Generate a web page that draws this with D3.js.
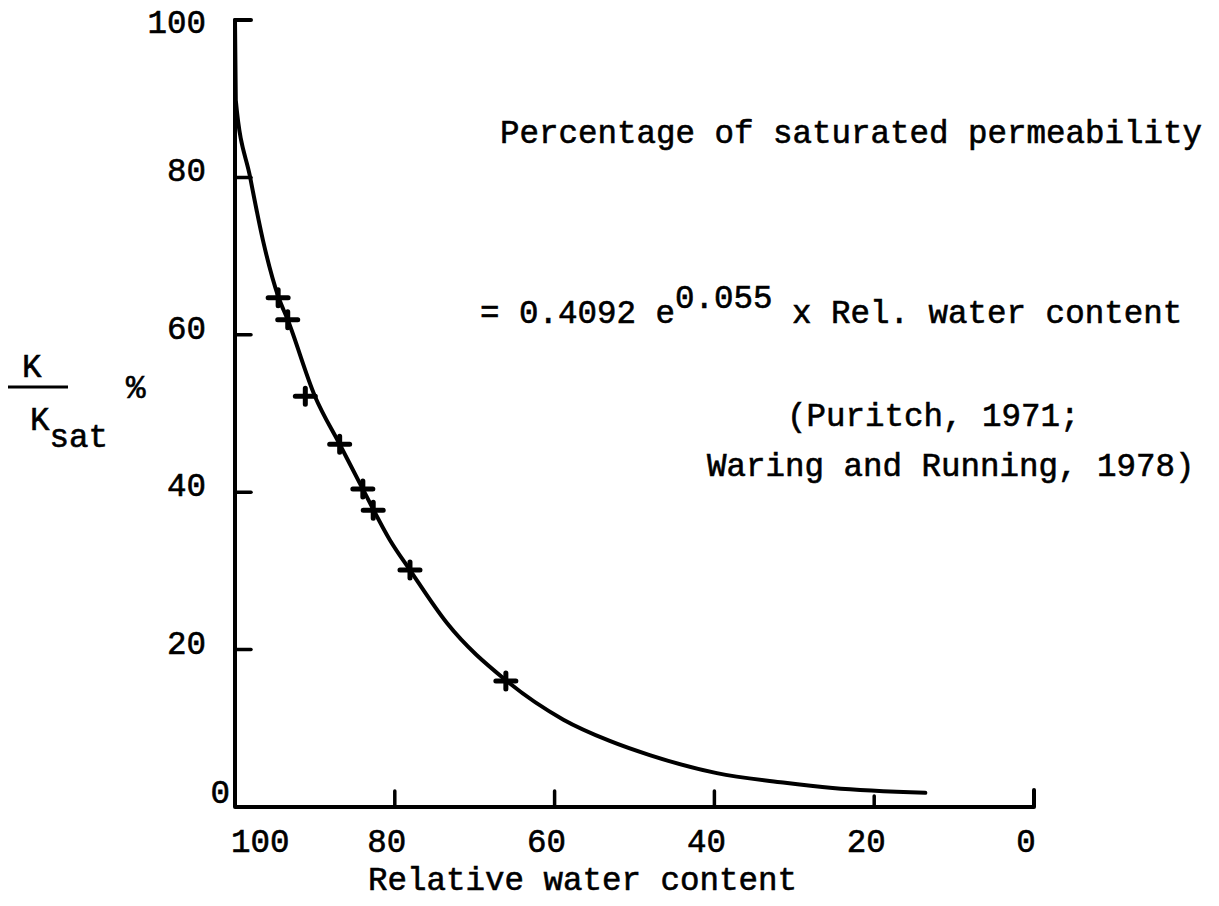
<!DOCTYPE html>
<html>
<head>
<meta charset="utf-8">
<script src="https://cdn.jsdelivr.net/npm/d3@7"></script>
<style>
  body { margin: 0; background: #fff; }
  text { font-family: 'Liberation Mono', 'DejaVu Sans Mono', monospace; fill: #000; stroke: #000; stroke-width: 0.6px; }
</style>
</head>
<body>
<div class="container"></div>
<script>
// values
const xTicks = [100, 80, 60, 40, 20, 0]
const yTicks = [0, 20, 40, 60, 80, 100]

// measured points (crosses): relative water content, K/Ksat %
const pointX = [94.6, 93.4, 91.2, 86.9, 84.0, 82.7, 78.1, 66.1]
const pointY = [64.7, 61.9, 52.2, 46.1, 40.4, 37.7, 30.1, 16.0]

// fitted curve
const curveX = [100, 99.9, 98.1, 96.5, 94.6, 93.4, 90.0, 86.9, 84.0, 80.6, 78.1, 73.5, 66.1, 58.9, 53.1, 48.1, 39.7, 31.4, 25.2, 13.6]
const curveY = [100, 89.8, 80, 72, 64.9, 61.9, 52.2, 46.1, 40.4, 33.9, 30.1, 23.4, 16.1, 11.1, 8.4, 6.6, 4.3, 3.1, 2.4, 1.8]

const width = 1219
const height = 906
const fs = 32.5

const svg = d3
  .select('.container')
  .append('svg')
  .attr('width', width)
  .attr('height', height)

const x = d3.scaleLinear().domain([100, 0]).range([235, 1034])
const y = d3.scaleLinear().domain([0, 100]).range([807, 20])

// axes
svg
  .append('path')
  .attr('d', `M${x(100) + 16},${y(100)}H${x(100)}V${y(0)}H${x(0)}V${y(0) - 17}`)
  .attr('fill', 'none')
  .attr('stroke', '#000')
  .attr('stroke-width', 4)
  .attr('stroke-linejoin', 'round')
  .attr('stroke-linecap', 'round')

// inner ticks
svg
  .selectAll('.xtick')
  .data(xTicks.filter((d) => d !== 100 && d !== 0))
  .enter()
  .append('line')
  .attr('x1', (d) => x(d))
  .attr('x2', (d) => x(d))
  .attr('y1', y(0))
  .attr('y2', (d) => y(0) - (d === 20 ? 11 : 16))
  .attr('stroke', '#000')
  .attr('stroke-width', 3.5)
  .attr('stroke-linecap', 'round')

svg
  .selectAll('.ytick')
  .data(yTicks.filter((d) => d !== 0 && d !== 100))
  .enter()
  .append('line')
  .attr('x1', x(100))
  .attr('x2', x(100) + 16)
  .attr('y1', (d) => y(d))
  .attr('y2', (d) => y(d))
  .attr('stroke', '#000')
  .attr('stroke-width', 3.5)
  .attr('stroke-linecap', 'round')

// tick labels
svg
  .selectAll('.xlabel')
  .data(xTicks)
  .enter()
  .append('text')
  .attr('x', (d) => (d === 100 ? x(d) - 4 : x(d) - 8))
  .attr('y', 852)
  .attr('text-anchor', (d) => (d === 100 ? 'start' : 'middle'))
  .attr('font-size', fs)
  .text((d) => d)

svg
  .selectAll('.ylabel')
  .data(yTicks)
  .enter()
  .append('text')
  .attr('x', (d) => (d === 0 ? 230 : 206))
  .attr('y', (d) => (d === 0 ? y(d) - 4 : d === 100 ? y(d) + 13 : y(d) + 4))
  .attr('text-anchor', 'end')
  .attr('font-size', fs)
  .text((d) => d)

// curve
const line = d3
  .line()
  .x((d) => x(d[0]))
  .y((d) => y(d[1]))
  .curve(d3.curveMonotoneX)

svg
  .append('path')
  .datum(d3.zip(curveX, curveY))
  .attr('d', line)
  .attr('fill', 'none')
  .attr('stroke', '#000')
  .attr('stroke-width', 4)
  .attr('stroke-linecap', 'round')

// crosses
svg
  .selectAll('.pt')
  .data(d3.zip(pointX, pointY))
  .enter()
  .append('path')
  .attr('d', (d) => {
    const cx = x(d[0])
    const cy = y(d[1])
    return `M${cx - 10},${cy}H${cx + 10}M${cx},${cy - 8}V${cy + 8}`
  })
  .attr('stroke', '#000')
  .attr('stroke-width', 5)
  .attr('stroke-linecap', 'round')

// axis titles
svg
  .append('text')
  .attr('x', 368)
  .attr('y', 890)
  .attr('font-size', fs)
  .text('Relative water content')

// y title: K / K_sat %
svg.append('text').attr('x', 22).attr('y', 377).attr('font-size', fs).text('K')
svg
  .append('line')
  .attr('x1', 8)
  .attr('x2', 68)
  .attr('y1', 387)
  .attr('y2', 387)
  .attr('stroke', '#000')
  .attr('stroke-width', 3)
const ksat = svg.append('text').attr('x', 30).attr('y', 430).attr('font-size', fs)
ksat.append('tspan').text('K')
ksat.append('tspan').attr('dy', 17).text('sat')
svg.append('text').attr('x', 126).attr('y', 398).attr('font-size', fs).text('%')

// annotations
svg
  .append('text')
  .attr('x', 500)
  .attr('y', 143)
  .attr('font-size', fs)
  .text('Percentage of saturated permeability')

const eq = svg.append('text').attr('x', 480).attr('y', 323).attr('font-size', fs)
eq.append('tspan').text('= 0.4092 e')
eq.append('tspan').attr('dy', -15).text('0.055')
eq.append('tspan').attr('dy', 15).text(' x Rel. water content')

svg
  .append('text')
  .attr('x', 787)
  .attr('y', 426)
  .attr('font-size', fs)
  .text('(Puritch, 1971;')

svg
  .append('text')
  .attr('x', 707)
  .attr('y', 476)
  .attr('font-size', fs)
  .text('Waring and Running, 1978)')
</script>
</body>
</html>
